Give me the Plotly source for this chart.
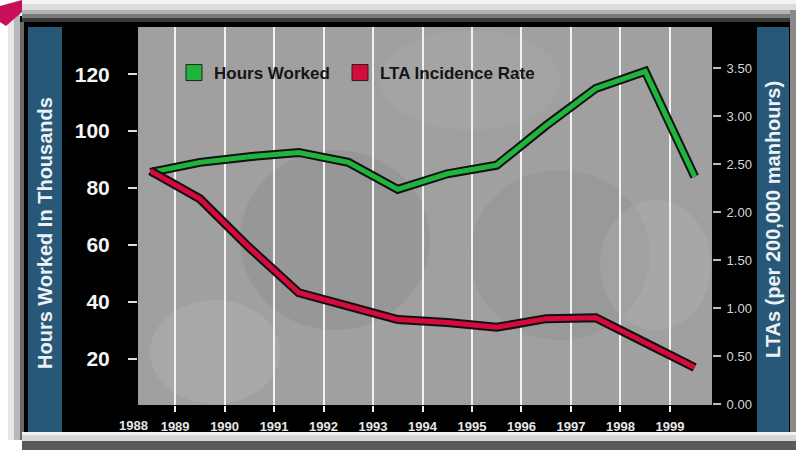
import plotly.graph_objects as go

# ---------------- data ----------------
years = [1988, 1989, 1990, 1991, 1992, 1993, 1994, 1995, 1996, 1997, 1998, 1999]
year_labels = [str(y) for y in years]
hours_worked = [85.5, 89, 91, 92.5, 89, 79.5, 85, 88, 102, 115, 121, 84]          # thousands
lta_rate = [2.43, 2.14, 1.63, 1.16, 1.02, 0.88, 0.85, 0.80, 0.89, 0.90, 0.64, 0.38]  # per 200,000 manhours
left_ticks = [20, 40, 60, 80, 100, 120]
right_ticks = [0.0, 0.5, 1.0, 1.5, 2.0, 2.5, 3.0, 3.5]
right_tick_labels = [f"{v:.2f}" for v in right_ticks]
series_names = ["Hours Worked", "LTA Incidence Rate"]
axis_titles = ["Hours Worked In Thousands", "LTAs (per 200,000 manhours)"]

# annual values plotted at mid-year
x_pos = [y + 0.5 for y in years]

# ---------------- layout geometry ----------------
W, H = 796, 450
PL, PR, PT, PB = 138, 712, 27, 405


def px(x):
    return (x - PL) / (PR - PL)


def py(y):
    return (PB - y) / (PB - PT)


def rect(x0, y0, x1, y1, color, opacity=1.0):
    return dict(type="rect", xref="paper", yref="paper", layer="below",
                x0=px(x0), x1=px(x1), y0=py(y1), y1=py(y0),
                fillcolor=color, line=dict(width=0), opacity=opacity)


def circle(x0, y0, x1, y1, color, opacity):
    return dict(type="circle", xref="paper", yref="paper", layer="below",
                x0=px(x0), x1=px(x1), y0=py(y1), y1=py(y0),
                fillcolor=color, line=dict(width=0), opacity=opacity)


GREEN = "#1fb53c"
RED = "#d60a3c"
BLUE = "#285878"
NARROW = "Liberation Sans Narrow, Arial Narrow, Liberation Sans, Arial, sans-serif"
SANS = "Liberation Sans, Arial, sans-serif"

shapes = [
    # outer black frame
    rect(20, 16, 796, 440, "#000000"),
    # top bevel
    rect(22, 0, 796, 4, "#f4f4f4"),
    rect(22, 4, 796, 10, "#dcdcdc"),
    rect(22, 10, 796, 14, "#b4b4b4"),
    rect(22, 14, 796, 18, "#7a7a7a"),
    rect(22, 18, 796, 22, "#3a3a3a"),
    # left bevel
    rect(8, 10, 14, 440, "#e6e6e6"),
    rect(14, 10, 20, 440, "#b8b8b8"),
    rect(20, 22, 24, 440, "#6a6a6a"),
    # right bevel
    rect(790, 10, 796, 440, "#8a8a8a"),
    # bottom bevel
    rect(22, 432, 796, 435, "#f2f2f2"),
    rect(22, 435, 796, 441, "#d6d6d6"),
    rect(22, 441, 796, 450, "#5a5a5a"),
    # magenta corner
    dict(type="path", xref="paper", yref="paper", layer="below",
         path=f"M {px(0)} {py(6)} L {px(22)} {py(0)} L {px(22)} {py(12)} L {px(6)} {py(26)} L {px(0)} {py(22)} Z",
         fillcolor="#c8105a", line=dict(width=0)),
    # blue title strips
    rect(28, 27, 62, 432, BLUE),
    rect(757, 27, 789, 432, BLUE),
    # plot background
    rect(PL, PT, PR, PB, "#a0a0a0"),
    circle(240, 150, 430, 330, "#5e5e5e", 0.12),
    circle(470, 170, 650, 340, "#5e5e5e", 0.10),
    circle(150, 300, 280, 404, "#dcdcdc", 0.14),
    circle(600, 200, 711, 330, "#dcdcdc", 0.12),
    circle(380, 30, 560, 130, "#d0d0d0", 0.10),
]

fig = go.Figure()

# shadows
fig.add_trace(go.Scatter(x=x_pos, y=hours_worked, mode="lines", yaxis="y",
                         line=dict(color="#111111", width=9), hoverinfo="skip", showlegend=False))
fig.add_trace(go.Scatter(x=x_pos, y=lta_rate, mode="lines", yaxis="y2",
                         line=dict(color="#111111", width=9), hoverinfo="skip", showlegend=False))
# series
fig.add_trace(go.Scatter(x=x_pos, y=hours_worked, mode="lines", yaxis="y", name=series_names[0],
                         line=dict(color=GREEN, width=5), showlegend=False))
fig.add_trace(go.Scatter(x=x_pos, y=lta_rate, mode="lines", yaxis="y2", name=series_names[1],
                         line=dict(color=RED, width=5), showlegend=False))
# legend entries (square swatches)
fig.add_trace(go.Scatter(x=[None], y=[None], mode="markers", name=series_names[0], legend="legend",
                         marker=dict(symbol="square", size=16, color=GREEN, line=dict(color="#222222", width=1))))
fig.add_trace(go.Scatter(x=[None], y=[None], mode="markers", name=series_names[1], legend="legend2",
                         marker=dict(symbol="square", size=16, color=RED, line=dict(color="#222222", width=1))))

legend_style = dict(orientation="h", yanchor="top", bgcolor="rgba(0,0,0,0)", borderwidth=0,
                    font=dict(family=SANS, size=17, color="#151515", weight="bold"), xanchor="left")

fig.update_layout(
    width=W, height=H, autosize=False,
    margin=dict(l=PL, r=W - PR, t=PT, b=H - PB, pad=0),
    paper_bgcolor="#ffffff", plot_bgcolor="rgba(0,0,0,0)",
    shapes=shapes,
    legend=dict(x=px(174), y=py(55), **legend_style),
    legend2=dict(x=px(340), y=py(55), **legend_style),
    xaxis=dict(range=[1988.25, 1999.85], tickvals=years[1:], ticktext=year_labels[1:],
               showgrid=True, gridcolor="#f2f2f2", gridwidth=2,
               ticks="outside", ticklen=6, tickwidth=2, tickcolor="#eeeeee",
               tickfont=dict(family=NARROW, size=13, color="#e6e6e6", weight="bold"),
               ticklabelstandoff=3, zeroline=False, showline=False, fixedrange=True),
    yaxis=dict(range=[3.7, 136.6], tickvals=left_ticks, showgrid=False,
               ticks="outside", ticklen=9, tickwidth=2, tickcolor="#dddddd",
               tickfont=dict(family=SANS, size=21, color="#f4f4f4", weight="bold"),
               ticklabelstandoff=14, zeroline=False, showline=False),
    yaxis2=dict(range=[-0.01, 3.93], overlaying="y", side="right", tickvals=right_ticks,
                ticktext=right_tick_labels, showgrid=False,
                ticks="outside", ticklen=8, tickwidth=2, tickcolor="#bbbbbb",
                tickfont=dict(family=NARROW, size=13, color="#d6d6d6"),
                ticklabelstandoff=3, zeroline=False, showline=False),
    annotations=[
        dict(text=f"<b>{axis_titles[0]}</b>", x=px(45), y=py(233), xref="paper", yref="paper",
             xanchor="center", yanchor="middle",
             textangle=-90, showarrow=False, font=dict(family=SANS, size=20, color="#eef2f6")),
        dict(text=f"<b>{axis_titles[1]}</b>", x=px(773), y=py(220), xref="paper", yref="paper",
             xanchor="center", yanchor="middle",
             textangle=-90, showarrow=False, font=dict(family=SANS, size=20, color="#eef2f6")),
        dict(text=year_labels[0], x=px(133), y=py(425), xref="paper", yref="paper",
             xanchor="center", yanchor="middle",
             showarrow=False, font=dict(family=NARROW, size=13, color="#e6e6e6", weight="bold")),
    ],
)

fig.write_html("out.html", config={"displayModeBar": False},
               post_script="document.body.style.margin='0px';")
